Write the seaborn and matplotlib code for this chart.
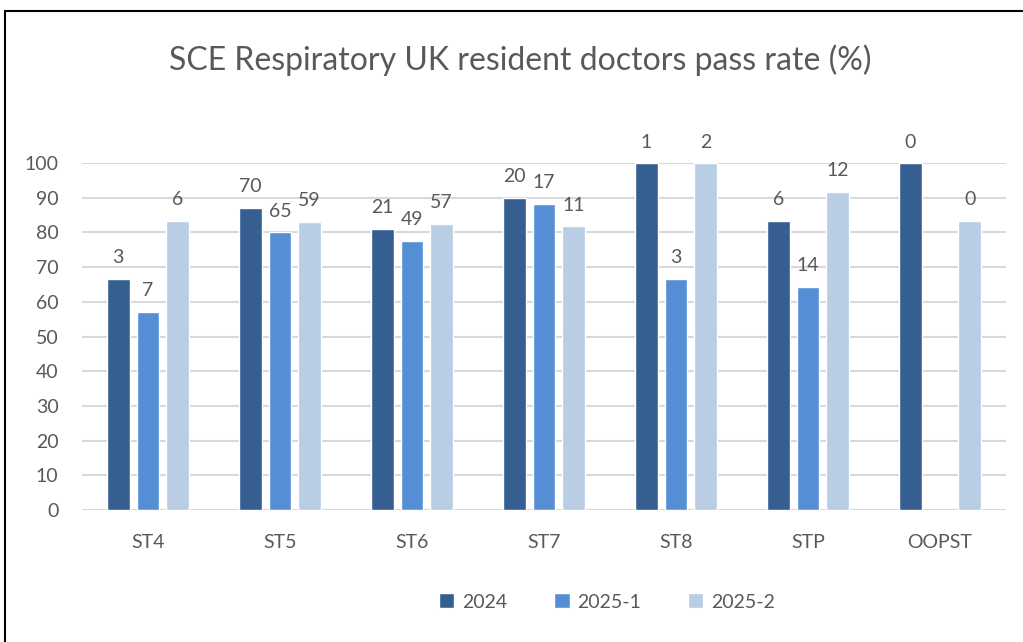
import pandas as pd
import numpy as np
import matplotlib.pyplot as plt
import seaborn as sns

# --------------------------------------------
# Data
# --------------------------------------------

grades = ["ST4", "ST5", "ST6", "ST7", "ST8", "STP", "OOPST"]
years = ["2024", "2025-1", "2025-2"]

# pass rate (%)
rate_2024 = [66.7, 87.1, 81.0, 90.0, 100.0, 83.3, 100.0]
rate_2025_1 = [57.1, 80.0, 77.6, 88.2, 66.7, 64.3, np.nan]
rate_2025_2 = [83.3, 83.1, 82.5, 81.8, 100.0, 91.7, 83.3]

# number of candidates shown above bars
n_2024 = [3, 70, 21, 20, 1, 6, 0]
n_2025_1 = [7, 65, 49, 17, 3, 14, np.nan]
n_2025_2 = [6, 59, 57, 11, 2, 12, 0]

colors = ["#355f91", "#558ed5", "#b9cde5"]
text_col = "#595959"

rows = []
for year, rates, counts in zip(years,
                               [rate_2024, rate_2025_1, rate_2025_2],
                               [n_2024, n_2025_1, n_2025_2]):
    for g, r, n in zip(grades, rates, counts):
        rows.append({"grade": g, "year": year, "rate": r, "n": n})
df = pd.DataFrame(rows).dropna()

# --------------------------------------------
# Plot
# --------------------------------------------

sns.set_theme(style="white")
plt.rcParams["font.family"] = ["Lato", "DejaVu Sans"]

fig = plt.figure(figsize=(10.23, 6.42), dpi=100)
ax = fig.add_axes([82 / 1023, 1 - 510 / 642, (1006 - 82) / 1023, (510 - 163) / 642])

sns.barplot(data=df, x="grade", y="rate", hue="year", order=grades,
            hue_order=years, palette=colors, width=0.675, gap=0.23,
            saturation=1, errorbar=None, ax=ax)

for cont, year in zip(ax.containers, years):
    labs = [str(int(v)) for v in df[df["year"] == year]["n"]]
    ax.bar_label(cont, labels=labs, padding=9, fontsize=14, color=text_col)

ax.set_ylim(0, 100)
ax.set_yticks(range(0, 101, 10))
ax.set_xlim(-0.5, len(grades) - 0.5)
ax.yaxis.grid(True, color="#d9d9d9", linewidth=1.5)
ax.set_axisbelow(True)
for s in ax.spines.values():
    s.set_visible(False)
ax.tick_params(axis="both", length=0, labelsize=14, labelcolor=text_col)
ax.tick_params(axis="y", pad=17)
ax.tick_params(axis="x", pad=17)
ax.set_xlabel("")
ax.set_ylabel("")

handles, labels = ax.get_legend_handles_labels()
ax.legend_.remove()
fig.legend(handles, labels, loc="center", bbox_to_anchor=(607 / 1023, 1 - 602 / 642),
           ncol=3, frameon=False, fontsize=14, labelcolor=text_col,
           handlelength=0.8, handleheight=0.8, handletextpad=0.4, columnspacing=2.4)

fig.text(520 / 1023, 1 - 60 / 642, "SCE Respiratory UK resident doctors pass rate (%)",
         ha="center", va="center", fontsize=23, color=text_col)

# chart frame
fig.add_artist(plt.Line2D([5 / 1023, 5 / 1023], [0, 1 - 11 / 642], color="black",
                          linewidth=1.5, transform=fig.transFigure))
fig.add_artist(plt.Line2D([5 / 1023, 1], [1 - 11 / 642, 1 - 11 / 642], color="black",
                          linewidth=1.5, transform=fig.transFigure))

fig.savefig("out.png", dpi=100)
